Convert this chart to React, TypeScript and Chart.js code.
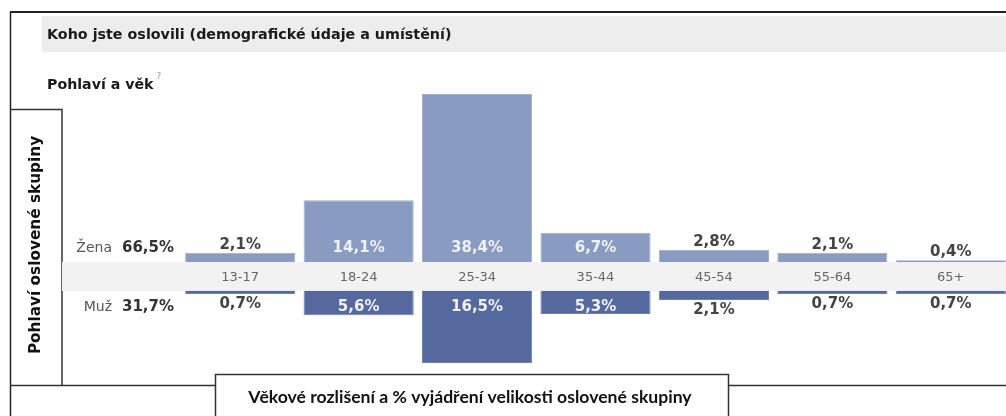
import React, { useEffect, useRef } from "react";
import { Chart, registerables } from "chart.js";

Chart.register(...registerables);

// ---- data ----
const categories = ["13-17", "18-24", "25-34", "35-44", "45-54", "55-64", "65+"];
const femaleValues = [2.1, 14.1, 38.4, 6.7, 2.8, 2.1, 0.4];
const maleValues = [0.7, 5.6, 16.5, 5.3, 2.1, 0.7, 0.7];
const genderNames = ["Žena", "Muž"];
const genderTotals = ["66,5%", "31,7%"];
const titleText = "Koho jste oslovili (demografické údaje a umístění)";
const subtitleText = "Pohlaví a věk";
const yTitleText = "Pohlaví oslovené skupiny";
const xTitleText = "Věkové rozlišení a % vyjádření velikosti oslovené skupiny";

// half-height of the category band, expressed in % units of the value scale
const GAP = 3.31;
const Y_MIN = -23.7;
const Y_MAX = 49.5;

const FEMALE = "#8a9bc1";
const MALE = "#56699f";

const fmt = (v: number) => v.toFixed(1).replace(".", ",") + "%";

const deco = {
  id: "deco",
  beforeDraw(chart: any) {
    const ctx = chart.ctx;
    const W = chart.width;
    const H = chart.height;
    ctx.save();
    ctx.fillStyle = "#ffffff";
    ctx.fillRect(0, 0, W, H);
    // header band
    ctx.fillStyle = "#ededed";
    ctx.fillRect(42, 16, W - 42, 36);
    // frame
    ctx.strokeStyle = "#222";
    ctx.lineWidth = 2;
    ctx.beginPath();
    ctx.moveTo(10, 12);
    ctx.lineTo(W, 12);
    ctx.stroke();
    ctx.lineWidth = 1.5;
    ctx.beginPath();
    ctx.moveTo(10.5, 12);
    ctx.lineTo(10.5, H);
    ctx.stroke();
    // left box
    ctx.strokeStyle = "#333";
    ctx.lineWidth = 1.5;
    ctx.beginPath();
    ctx.moveTo(10, 109.5);
    ctx.lineTo(62, 109.5);
    ctx.lineTo(62, 385.5);
    ctx.moveTo(10, 385.5);
    ctx.lineTo(215, 385.5);
    ctx.moveTo(728, 385.5);
    ctx.lineTo(W, 385.5);
    ctx.stroke();
    // bottom box
    ctx.beginPath();
    ctx.moveTo(215.5, H);
    ctx.lineTo(215.5, 374.5);
    ctx.lineTo(728.5, 374.5);
    ctx.lineTo(728.5, H);
    ctx.stroke();

    // titles
    ctx.fillStyle = "#1a1a1a";
    ctx.textBaseline = "middle";
    ctx.textAlign = "left";
    ctx.font = "bold 14.3px 'DejaVu Sans'";
    ctx.fillText(titleText, 47, 35);
    ctx.font = "bold 14.2px 'DejaVu Sans'";
    ctx.fillText(subtitleText, 47, 85);
    const sw = ctx.measureText(subtitleText).width;
    ctx.fillStyle = "#999";
    ctx.font = "9px 'DejaVu Sans'";
    ctx.fillText("?", 47 + sw + 3, 77);

    // rotated y title
    ctx.save();
    ctx.translate(36, 245);
    ctx.rotate(-Math.PI / 2);
    ctx.fillStyle = "#111";
    ctx.textAlign = "center";
    ctx.font = "bold 15.3px 'DejaVu Sans'";
    ctx.fillText(yTitleText, 0, 0);
    ctx.restore();

    // bottom x title
    ctx.fillStyle = "#111";
    ctx.textAlign = "center";
    ctx.font = "bold 17.6px Lato";
    ctx.fillText(xTitleText, 470, 397);
    ctx.restore();
  },
  beforeDatasetsDraw(chart: any) {
    const ctx = chart.ctx;
    const x = chart.scales.x;
    const y = chart.scales.y;
    const top = y.getPixelForValue(GAP);
    const bot = y.getPixelForValue(-GAP);
    ctx.save();
    ctx.fillStyle = "#f2f2f2";
    ctx.fillRect(62, top, chart.width - 62, bot - top);
    ctx.fillStyle = "#666";
    ctx.font = "13px 'DejaVu Sans'";
    ctx.textAlign = "center";
    ctx.textBaseline = "middle";
    const mid = (top + bot) / 2;
    categories.forEach((c, i) => {
      ctx.fillText(c, x.getPixelForValue(i), mid + 1);
    });
    // gender labels
    const rows = [top - 14, bot + 16];
    rows.forEach((ry, i) => {
      ctx.textAlign = "right";
      ctx.fillStyle = "#555";
      ctx.font = "14px 'DejaVu Sans'";
      ctx.fillText(genderNames[i], 112, ry);
      ctx.fillStyle = "#333";
      ctx.font = "bold 15px 'DejaVu Sans'";
      ctx.fillText(genderTotals[i], 174, ry);
    });
    ctx.restore();
  },
  afterDatasetsDraw(chart: any) {
    const ctx = chart.ctx;
    const y = chart.scales.y;
    const top = y.getPixelForValue(GAP);
    const bot = y.getPixelForValue(-GAP);
    ctx.save();
    ctx.font = "bold 15px 'DejaVu Sans'";
    ctx.textAlign = "center";
    ctx.textBaseline = "middle";
    const sets = [femaleValues, maleValues];
    sets.forEach((vals, di) => {
      const meta = chart.getDatasetMeta(di);
      vals.forEach((v, i) => {
        const el = meta.data[i];
        const px = el.x;
        const inside = v >= 5;
        let py: number;
        if (di === 0) {
          const barTop = Math.min(el.y, el.base);
          py = inside ? top - 14 : barTop - 8;
        } else {
          const barBot = Math.max(el.y, el.base);
          py = inside ? bot + 16 : barBot + 10;
        }
        ctx.fillStyle = inside ? "#eef1f8" : "#444";
        ctx.fillText(fmt(v), px, py);
      });
    });
    ctx.restore();
  },
};

export default function App() {
  const ref = useRef<HTMLCanvasElement | null>(null);
  useEffect(() => {
    if (!ref.current) return;
    const chart = new Chart(ref.current, {
      type: "bar",
      data: {
        labels: categories,
        datasets: [
          {
            label: genderNames[0],
            data: femaleValues.map((v) => [GAP, GAP + v]) as any,
            backgroundColor: FEMALE,
            borderColor: "#9eadcf",
            borderWidth: 1,
            grouped: false,
            categoryPercentage: 1,
            barPercentage: 0.93,
          } as any,
          {
            label: genderNames[1],
            data: maleValues.map((v) => [-GAP, -GAP - v]) as any,
            backgroundColor: MALE,
            borderColor: "#6e7fb0",
            borderWidth: 1,
            grouped: false,
            categoryPercentage: 1,
            barPercentage: 0.93,
          } as any,
        ],
      },
      options: {
        responsive: false,
        animation: false,
        devicePixelRatio: 1,
        layout: { padding: { left: 181, right: 10, top: 60, bottom: 36 } },
        scales: {
          x: { display: false },
          y: { display: false, min: Y_MIN, max: Y_MAX },
        },
        plugins: {
          legend: { display: false },
          tooltip: { enabled: false },
        },
      },
      plugins: [deco],
    });
    return () => chart.destroy();
  }, []);
  return (
    <div
      style={{
        position: "absolute",
        left: 0,
        top: 0,
        width: 1006,
        height: 416,
        overflow: "hidden",
        background: "#fff",
      }}
    >
      <canvas ref={ref} width={1020} height={416} style={{ display: "block", width: 1020, height: 416 }} />
    </div>
  );
}
